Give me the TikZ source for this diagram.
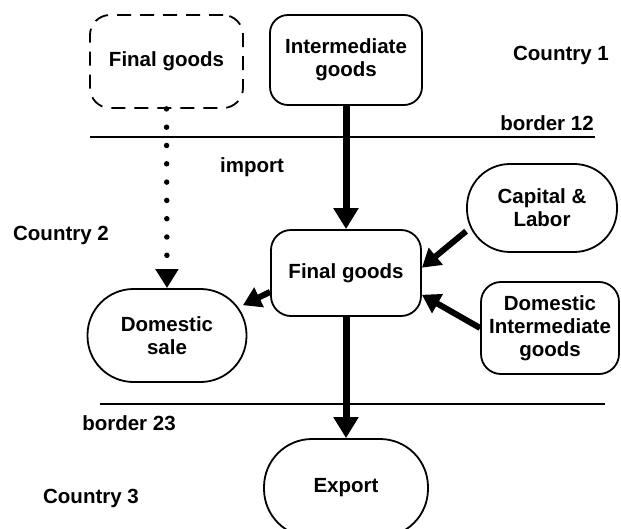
\documentclass[tikz,border=0pt]{standalone}
\usepackage{fontspec}
\setmainfont{Liberation Sans}
\usetikzlibrary{arrows.meta}
\tikzset{
  box/.style={draw, line width=1.8pt, inner sep=0pt, align=center, font=\fontsize{20.5}{23}\selectfont\bfseries},
  lbl/.style={inner sep=0pt, font=\fontsize{20.5}{23}\selectfont\bfseries},
  bigarrow/.style={line width=7pt, -{Triangle[width=24pt,length=21pt]}},
  midarrow/.style={line width=6pt, -{Triangle[width=21pt,length=18pt]}},
  dotarrow/.style={line width=5.5pt, line cap=round, dash pattern=on 0pt off 18.3pt, -{Triangle[width=22pt,length=19pt]}},
  borderline/.style={line width=1.8pt}
}
\begin{document}
\begin{tikzpicture}[x=1pt,y=-1pt]
\useasboundingbox (0,0) rectangle (621,529);
% boxes
\node[box, dashed, dash pattern=on 14pt off 9pt, rounded corners=20pt, minimum width=153pt, minimum height=93pt] (dfg) at (166.5,61.5) {Final goods};
\node[box, rounded corners=18pt, minimum width=152pt, minimum height=90pt] (inter) at (346,60) {Intermediate\\goods};
\node[box, rounded corners=20pt, minimum width=150pt, minimum height=86pt] (fg) at (346,273) {Final goods};
\node[box, rounded corners=43pt, minimum width=150pt, minimum height=88pt] (cap) at (542,208) {Capital \&\\Labor};
\node[box, rounded corners=20pt, minimum width=138pt, minimum height=92pt] (dint) at (550,328) {Domestic\\Intermediate\\goods};
\node[box, rounded corners=46pt, minimum width=159pt, minimum height=93pt] (dsale) at (167,335.5) {Domestic\\sale};
\node[box, rounded corners=48pt, minimum width=164pt, minimum height=98pt] (export) at (346,488) {Export};
% labels
\node[lbl] (c1) at (561,55) {Country 1};
\node[lbl] (b12) at (547,123) {border 12};
\node[lbl] (c2) at (61,235) {Country 2};
\node[lbl] (imp) at (252,167) {import};
\node[lbl] (b23) at (129,423) {border 23};
\node[lbl] (c3) at (91,498) {Country 3};
% border lines
\coordinate (l12a) at (90,137);
\coordinate (l12b) at (595,137);
\coordinate (l23a) at (100,404);
\coordinate (l23b) at (605,404);
\draw[borderline] (l12a) -- (l12b);
\draw[borderline] (l23a) -- (l23b);
% connectors
\draw[dotarrow] (dfg.south) -- (dsale.north);
\draw[bigarrow] (inter.south) -- (fg.north);
\draw[bigarrow] (fg.south) -- (export.north);
\draw[midarrow] (cap.197) -- (fg.4);
\draw[midarrow] (dint.west) -- (fg.-16);
\draw[midarrow, shorten >=-5pt] (fg.194) -- (dsale.22);
\end{tikzpicture}
\end{document}
